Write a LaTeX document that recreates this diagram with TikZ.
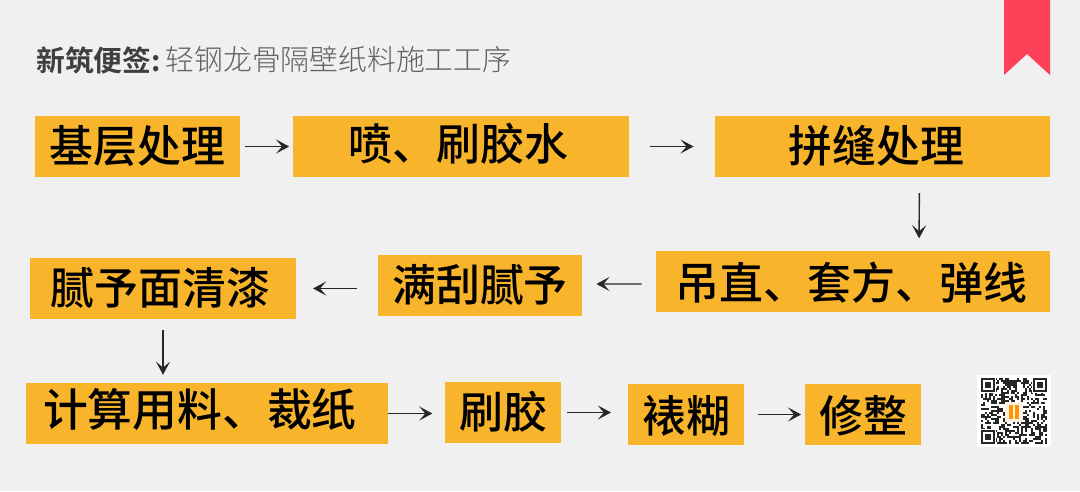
\documentclass[tikz,border=0pt]{standalone}
\usepackage{fontspec}
\setmainfont{Noto Sans CJK SC}[BoldFont={Noto Sans CJK SC Bold}]
\newfontfamily\thinfont{Noto Sans CJK SC Light}
\newfontfamily\boxfont{Noto Sans CJK SC Medium}
\usetikzlibrary{arrows.meta,positioning,calc}
\definecolor{bgcol}{HTML}{F0F0F0}
\definecolor{boxcol}{HTML}{F8B52C}
\definecolor{ribboncol}{HTML}{FE4058}
\definecolor{titlecol}{HTML}{3F3F3F}
\newcommand{\nudge}[3]{\raisebox{#2}{\kern#1 #3}}

\begin{document}
\begin{tikzpicture}[
    x=0.02cm, y=-0.02cm,
    stepbox/.style={fill=boxcol, minimum height=1.22cm, inner sep=0pt, text height=21pt, text depth=3pt, font=\boxfont\fontsize{25}{25}\selectfont, text=black},
    arr/.style={-{Stealth[length=7.5pt,width=8pt,inset=3.5pt]}, line width=0.8pt, black!85}
]
\useasboundingbox[fill=bgcol] (0,0) rectangle (1080,491);

% title and ribbon
\node[anchor=west, inner sep=0pt, font=\fontsize{16.4}{16.4}\selectfont\bfseries, text=titlecol] (tb) at (36,60) {新筑便签:};
\node[right=0.08cm of tb, inner sep=0pt, font=\thinfont\fontsize{16.4}{16.4}\selectfont, text=black!62] (tr) {轻钢龙骨隔壁纸料施工工序};
\fill[ribboncol] (1004,0) -- (1050,0) -- (1050,75) -- (1027,54) -- (1004,75) -- cycle;

% boxes
\node[stepbox, minimum width=4.1cm] (s1) at (137.5,146.5) {基层处理};
\node[stepbox, minimum width=6.72cm] (s2) at (461,146.5) {\nudge{-2.5pt}{1pt}{喷、刷胶水}};
\node[stepbox, minimum width=6.7cm] (s3) at (882.5,146.5) {\nudge{-6.5pt}{0pt}{拼缝处理}};
\node[stepbox, minimum width=7.88cm] (s4) at (853,281.5) {\nudge{-1.5pt}{-1.5pt}{吊直、套方、弹线}};
\node[stepbox, minimum width=4.08cm] (s5) at (480,285.5) {满刮腻予};
\node[stepbox, minimum width=5.32cm] (s6) at (163,288.5) {\nudge{-3pt}{0pt}{腻予面清漆}};
\node[stepbox, minimum width=7.24cm, font=\boxfont\fontsize{25.5}{25.5}\selectfont] (s7) at (207,413.5) {\nudge{-8pt}{1.5pt}{计算用料、裁纸}};
\node[stepbox, minimum width=2.32cm] (s8) at (503,412.5) {刷胶};
\node[stepbox, minimum width=2.32cm] (s9) at (686,414.5) {\nudge{0pt}{-1pt}{裱糊}};
\node[stepbox, minimum width=2.32cm] (s10) at (863,414.5) {\nudge{0pt}{-1.5pt}{修整}};

% arrows
\draw[arr, shorten <=2.5pt, shorten >=2pt] (s1) -- (s2);
\draw[arr, shorten <=12pt, shorten >=12pt] (s2) -- (s3);
\draw[arr, shorten <=9pt, shorten >=7pt] ([xshift=0.74cm]s3.south) -- ([xshift=1.32cm]s4.north);
\draw[arr, shorten <=8pt, shorten >=8pt] ([yshift=-0.05cm]s4.west) -- ([yshift=0.03cm]s5.east);
\draw[arr, shorten <=11.5pt, shorten >=9.5pt] (s5.west |- s6) -- (s6.east);
\draw[arr, shorten <=6pt, shorten >=4.5pt] (s6.south) -- (s6.south |- s7.north);
\draw[arr, shorten <=0pt, shorten >=7pt] (s7.east) -- (s7.east -| s8.west);
\draw[arr, shorten <=3.5pt, shorten >=9.5pt] (s8.east |- s8) -- (s8.east -| s9.west);
\draw[arr, shorten <=8pt, shorten >=2pt] (s9.east) -- (s10.west);

% qr code
\fill[white] (977,375) rectangle (1051,447);
\pgfmathsetseed{2024}
\foreach \i in {0,...,32} {
  \foreach \j in {0,...,32} {
    \pgfmathparse{rnd}
    \ifdim\pgfmathresult pt<0.5pt
      \fill[black!85] ({981+2*\i},{378+2*\j}) rectangle ++(2.05,2.05);
    \fi
  }
}
\foreach \cx/\cy in {981/378, 1033/378, 981/430} {
  \fill[white] (\cx-1,\cy-1) rectangle ++(16,16);
  \fill[black!85] (\cx,\cy) rectangle ++(14,14);
  \fill[white] (\cx+2,\cy+2) rectangle ++(10,10);
  \fill[black!85] (\cx+4,\cy+4) rectangle ++(6,6);
}
\fill[white!90!orange] (1005,402) rectangle (1023,422);
\fill[orange!85!yellow] (1009,405) rectangle (1013,419);
\fill[orange!85!yellow] (1015,405) rectangle (1019,419);
\end{tikzpicture}
\end{document}
